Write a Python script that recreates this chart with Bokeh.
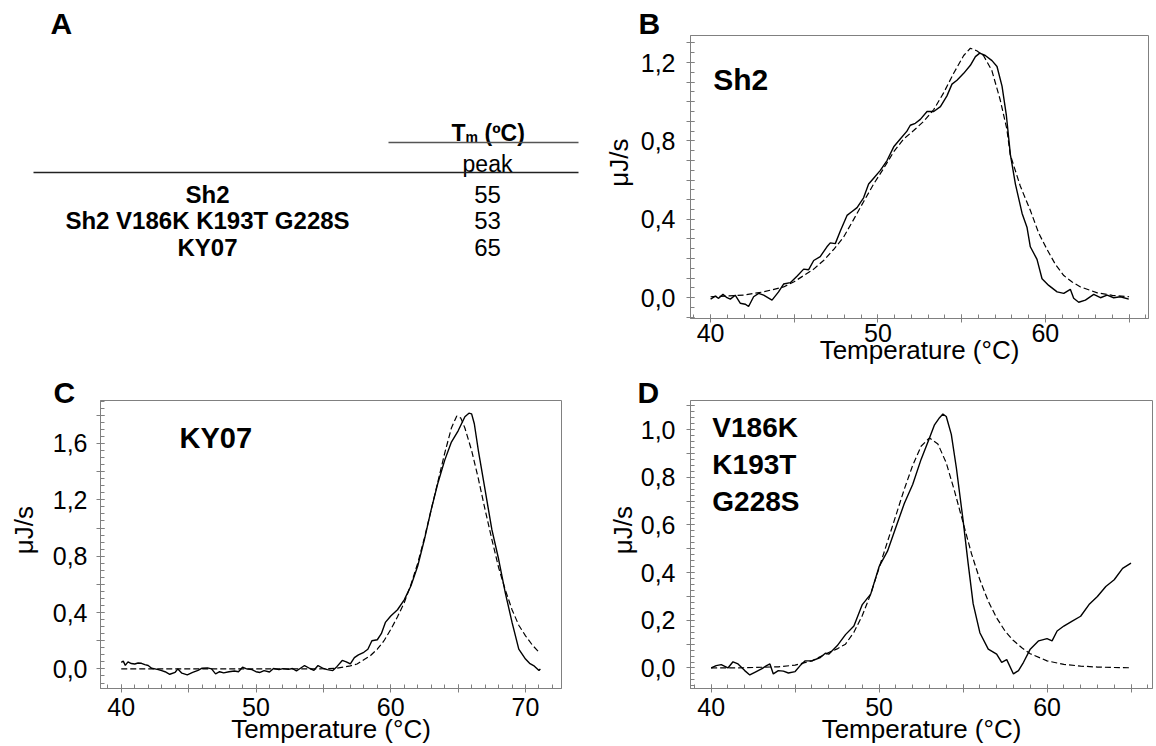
from bokeh.plotting import figure
from bokeh.models import Range1d, FixedTicker, Label, GlobalInlineStyleSheet
from bokeh.layouts import row, column
from bokeh.embed import file_html
from bokeh.resources import INLINE
from bokeh.core.properties import value

FONT = "Liberation Sans"
FRAME = "#808080"
NB = "\u00a0"

# ---------------- Panel A: table ----------------
TABLE_NAMES = ["Sh2", "Sh2 V186K K193T G228S", "KY07"]
TABLE_TM = ["55", "53", "65"]

# ---------------- Panel B: Sh2 ----------------
B_T = [40.0, 40.28, 40.48, 40.74, 40.98, 41.18, 41.47, 41.77, 42.07, 42.27, 42.57, 42.87, 43.17,
       43.67, 44.06, 44.36, 44.76, 45.16, 45.56, 45.86, 46.16, 46.55, 46.95, 47.15, 47.45, 47.75,
       48.15, 48.45, 48.75, 49.14, 49.44, 49.74, 50.14, 50.54, 50.94, 51.33, 51.73, 51.93, 52.23,
       52.53, 52.93, 53.33, 53.73, 54.12, 54.42, 54.72, 55.12, 55.52, 55.82, 56.08, 56.41, 56.81,
       57.11, 57.41, 57.67, 57.91, 58.21, 58.61, 58.90, 59.10, 59.50, 59.80, 60.20, 60.70, 61.10,
       61.49, 61.69, 61.99, 62.39, 62.89, 63.29, 63.69, 64.08, 64.48, 64.98]
B_OBS = [-0.007, 0.008, -0.003, 0.017, 0.0, -0.007, 0.013, -0.028, -0.033, -0.045, 0.005, 0.022, 0.013,
         -0.012, 0.03, 0.07, 0.077, 0.11, 0.146, 0.143, 0.19, 0.21, 0.26, 0.28, 0.276, 0.34,
         0.42, 0.44, 0.46, 0.51, 0.58, 0.61, 0.65, 0.70, 0.77, 0.81, 0.85, 0.88, 0.89,
         0.91, 0.95, 0.95, 0.975, 1.03, 1.09, 1.11, 1.145, 1.186, 1.23, 1.248, 1.236, 1.21,
         1.18, 1.08, 0.93, 0.73, 0.58, 0.43, 0.36, 0.26, 0.196, 0.097, 0.063, 0.03, 0.022,
         0.043, -0.003, -0.023, -0.012, 0.017, 0.0, 0.013, 0.0, 0.005, -0.007]
B_FIT_T = [40.0, 41.0, 41.97, 43.17, 44.36, 44.96, 45.56, 46.16, 46.75, 47.35, 47.95, 48.55, 49.14,
           49.74, 50.34, 50.94, 51.53, 52.13, 52.73, 53.33, 53.92, 54.52, 55.12, 55.52, 55.9, 56.3,
           56.8, 57.3, 57.7, 57.9, 58.5, 59.1, 59.6, 60.1, 60.6, 61.1, 61.6, 62.1, 63.1, 64.0, 65.0]
B_FIT = [0.005, 0.009, 0.013, 0.03, 0.055, 0.08, 0.113, 0.146, 0.19, 0.246, 0.31, 0.40, 0.49,
         0.58, 0.66, 0.745, 0.81, 0.853, 0.90, 0.96, 1.045, 1.145, 1.236, 1.273, 1.26, 1.236,
         1.16, 1.01, 0.86, 0.73, 0.57, 0.446, 0.33, 0.246, 0.17, 0.113, 0.08, 0.055, 0.025, 0.012, 0.005]
B_X_TICKS = [40, 45, 50, 55, 60, 65]
B_X_LABELS = ["40", "", "50", "", "60", ""]
B_Y_TICKS = [round(-0.1 + 0.1 * i, 2) for i in range(15)]
B_Y_LABELS = ["", "0,0", "", "", "", "0,4", "", "", "", "0,8", "", "", "", "1,2", ""]

# ---------------- Panel C: KY07 ----------------
C_T = [40.0, 40.15, 40.3, 40.5, 40.75, 41.0, 41.25, 41.5, 41.75, 42.0, 42.25, 42.5, 42.75, 43.0,
       43.25, 43.6, 44.0, 44.2, 44.5, 44.9, 45.3, 45.7, 46.0, 46.4, 46.7, 47.0, 47.3, 47.6, 48.0,
       48.4, 48.7, 49.0, 49.3, 49.7, 50.0, 50.3, 50.6, 51.0, 51.3, 51.7, 52.0, 52.4, 52.7, 53.0,
       53.3, 53.6, 54.0, 54.3, 54.6, 55.0, 55.3, 55.7, 56.0, 56.4, 56.7, 57.0, 57.3, 57.6, 58.0,
       58.3, 58.6, 59.0, 59.3, 59.6, 60.0, 60.5, 61.0, 61.5, 62.0, 62.5, 63.0, 63.5, 64.0, 64.5,
       65.0, 65.5, 65.8, 66.0, 66.2, 66.5, 67.0, 67.5, 68.0, 68.5, 69.0, 69.5, 70.0, 70.3, 70.6,
       71.0, 71.1]
C_OBS = [0.047, 0.055, 0.025, 0.05, 0.038, 0.035, 0.042, 0.04, 0.03, 0.024, 0.005, 0.0, -0.005, -0.012,
         -0.02, -0.038, -0.024, 0.0, -0.03, -0.042, -0.025, -0.01, 0.005, 0.007, 0.0, -0.035, -0.02, -0.028, -0.02,
         -0.015, -0.02, 0.012, 0.0, -0.005, -0.02, -0.025, -0.012, -0.022, 0.003, -0.005, 0.002, -0.003, 0.003, -0.015,
         0.005, 0.024, 0.003, -0.01, 0.024, 0.003, -0.005, -0.012, 0.016, 0.06, 0.05, 0.035, 0.08, 0.1, 0.118,
         0.14, 0.2, 0.207, 0.25, 0.33, 0.376, 0.42, 0.49, 0.59, 0.73, 0.92, 1.13, 1.32, 1.48, 1.61,
         1.69, 1.79, 1.815, 1.81, 1.74, 1.55, 1.27, 0.99, 0.78, 0.54, 0.33, 0.14, 0.07, 0.04, 0.024,
         -0.012, 0.0]
C_FIT_T = [40.0, 45.0, 50.0, 55.0, 56.0, 57.0, 57.5, 58.0, 58.5, 59.0, 59.5, 60.0, 60.5, 61.0, 61.5,
           62.0, 62.5, 63.0, 63.5, 64.0, 64.5, 64.9, 65.2, 65.5, 66.0, 66.5, 67.0, 67.5, 68.0, 68.5,
           69.0, 69.5, 70.0, 70.5, 71.0]
C_FIT = [0.0, 0.0, 0.0, 0.001, 0.005, 0.022, 0.035, 0.065, 0.095, 0.14, 0.2, 0.28, 0.37, 0.47, 0.6,
         0.75, 0.93, 1.13, 1.33, 1.53, 1.71, 1.795, 1.78, 1.71, 1.55, 1.35, 1.13, 0.92, 0.72, 0.56,
         0.42, 0.31, 0.235, 0.17, 0.118]
C_X_TICKS = [40, 45, 50, 55, 60, 65, 70]
C_X_LABELS = ["40", "", "50", "", "60", "", "70"]
C_Y_TICKS = [round(0.2 * i, 2) for i in range(10)]
C_Y_LABELS = ["0,0", "", "0,4", "", "0,8", "", "1,2", "", "1,6", ""]

# ---------------- Panel D: V186K K193T G228S ----------------
D_T = [40.0, 40.3, 40.6, 41.0, 41.3, 41.6, 42.0, 42.3, 42.6, 43.0, 43.3, 43.5, 43.7, 44.0, 44.3,
       44.6, 45.0, 45.3, 45.6, 46.0, 46.5, 46.8, 47.0, 47.5, 48.0, 48.5, 49.0, 49.5, 50.0, 50.5,
       51.0, 51.5, 52.0, 52.5, 53.0, 53.3, 53.6, 53.8, 54.0, 54.3, 54.6, 55.0, 55.3, 55.6, 56.0,
       56.5, 57.0, 57.3, 57.6, 58.0, 58.3, 58.6, 59.0, 59.5, 60.0, 60.3, 60.6, 61.0, 61.5, 62.0,
       62.5, 63.0, 63.5, 64.0, 64.5, 65.0]
D_OBS = [0.0, 0.01, 0.014, 0.0, 0.026, 0.017, -0.011, -0.029, -0.018, -0.004, 0.01, 0.017, -0.025, -0.011, -0.013,
         -0.021, -0.015, 0.01, 0.03, 0.03, 0.044, 0.062, 0.058, 0.093, 0.14, 0.176, 0.266, 0.31, 0.425, 0.49,
         0.59, 0.69, 0.77, 0.875, 0.965, 1.02, 1.05, 1.065, 1.055, 0.98, 0.84, 0.62, 0.44, 0.27, 0.148,
         0.079, 0.058, 0.024, 0.035, -0.025, -0.011, 0.024, 0.079, 0.114, 0.123, 0.114, 0.155, 0.176, 0.197, 0.217,
         0.266, 0.30, 0.342, 0.37, 0.418, 0.44]
D_FIT_T = [40.0, 42.0, 44.0, 45.0, 46.0, 47.0, 47.5, 48.0, 48.5, 49.0, 49.5, 50.0, 50.5, 51.0, 51.5,
           52.0, 52.5, 53.0, 53.5, 54.0, 54.5, 55.0, 55.5, 56.0, 56.5, 57.0, 57.5, 58.0, 58.5, 59.0,
           60.0, 61.0, 62.0, 63.0, 64.0, 65.0]
D_FIT = [0.0, 0.001, 0.005, 0.012, 0.03, 0.065, 0.08, 0.10, 0.15, 0.22, 0.31, 0.42, 0.53, 0.64, 0.75,
         0.85, 0.93, 0.965, 0.94, 0.86, 0.74, 0.61, 0.48, 0.37, 0.28, 0.21, 0.155, 0.115, 0.085, 0.06,
         0.03, 0.015, 0.008, 0.004, 0.002, 0.001]
D_X_TICKS = [40, 45, 50, 55, 60, 65]
D_X_LABELS = ["40", "", "50", "", "60", ""]
D_Y_TICKS = [round(0.1 * i, 2) for i in range(12)]
D_Y_LABELS = ["0,0", "", "0,2", "", "0,4", "", "0,6", "", "0,8", "", "1,0", ""]

Y_TITLE = NB * 4 + "μJ/s"
X_TITLE = "Temperature (°C)"


def style_axis(ax, ticks, labels, minor, label_standoff, axis_label_standoff):
    ax.ticker = FixedTicker(ticks=ticks, minor_ticks=minor)
    ax.major_label_overrides = dict(zip(ticks, labels))
    ax.axis_line_color = FRAME
    ax.major_tick_line_color = FRAME
    ax.minor_tick_line_color = FRAME
    ax.major_tick_in = 4
    ax.major_tick_out = 4
    ax.minor_tick_in = 4
    ax.minor_tick_out = 0
    ax.major_label_standoff = label_standoff
    ax.major_label_text_font = FONT
    ax.major_label_text_font_size = "25px"
    ax.major_label_text_color = "black"
    ax.axis_label_standoff = axis_label_standoff
    ax.axis_label_text_font = FONT
    ax.axis_label_text_font_size = "26px"
    ax.axis_label_text_font_style = "normal"
    ax.axis_label_text_color = "black"


def set_letter(p, text, offset, standoff):
    p.title.text = text
    p.title.align = "left"
    p.title.vertical_align = "bottom"
    p.title.offset = offset
    p.title.standoff = standoff
    p.title.text_font = FONT
    p.title.text_font_size = "30px"
    p.title.text_font_style = "bold"
    p.title.text_color = "black"


def panel(width, height, borders, xr, yr):
    left, right, top, bottom = borders
    p = figure(width=width, height=height, x_range=Range1d(*xr), y_range=Range1d(*yr),
               output_backend="svg", toolbar_location=None,
               min_border_left=left, min_border_right=right,
               min_border_top=top, min_border_bottom=bottom)
    p.xgrid.visible = False
    p.ygrid.visible = False
    p.outline_line_color = FRAME
    p.outline_line_width = 1
    p.background_fill_color = "white"
    p.border_fill_color = "white"
    return p


def add_curves(p, t, obs, ft, fit):
    p.line(ft, fit, line_color="black", line_width=1.2, line_dash="6 3")
    p.line(t, obs, line_color="black", line_width=1.4)


def add_label(p, x, y, text, size):
    p.add_layout(Label(x=x, y=y, text=text, text_font=FONT, text_font_size=size,
                       text_font_style="bold", text_color="black",
                       text_align="left", text_baseline="alphabetic"))


TOP_H, BOT_H = 372, 374
LEFT_W, RIGHT_W = 600, 556

# ---------------- Panel A figure (table, page-pixel coordinates) ----------------
pA = figure(width=LEFT_W, height=TOP_H, x_range=Range1d(0, 600), y_range=Range1d(318, 35),
            output_backend="svg", toolbar_location=None, x_axis_type=None, y_axis_type=None,
            min_border_left=0, min_border_right=0, min_border_top=35, min_border_bottom=54)
pA.outline_line_color = None
pA.xgrid.visible = False
pA.ygrid.visible = False
set_letter(pA, "A", 50, -8)
pA.text(x=[451], y=[132.5], text=["T"], text_font=value(FONT), text_font_size="23px",
        text_font_style="bold", text_align="left", text_baseline="alphabetic")
pA.text(x=[465], y=[136.5], text=["m"], text_font=value(FONT), text_font_size="14px",
        text_font_style="bold", text_align="left", text_baseline="alphabetic")
pA.text(x=[484], y=[132.5], text=["(ºC)"], text_font=value(FONT), text_font_size="23px",
        text_font_style="bold", text_align="left", text_baseline="alphabetic")
pA.text(x=[487], y=[163], text=["peak"], text_font=value(FONT), text_font_size="23px",
        text_align="center", text_baseline="alphabetic")
pA.segment(x0=[388], y0=[142], x1=[578], y1=[142], line_color="#555555", line_width=1.5)
pA.segment(x0=[33], y0=[172], x1=[578], y1=[172], line_color="#222222", line_width=1.5)
pA.text(x=[207, 207, 207], y=[194, 220, 247], text=TABLE_NAMES, text_font=value(FONT),
        text_font_size="24px", text_font_style="bold", text_align="center", text_baseline="alphabetic")
pA.text(x=[487, 487, 487], y=[194, 220, 247], text=TABLE_TM, text_font=value(FONT),
        text_font_size="24px", text_align="center", text_baseline="alphabetic")

# ---------------- Panel B figure ----------------
pB = panel(RIGHT_W, TOP_H, (90, 8, 35, 54), (38.8, 66.16), (-0.106, 1.338))
style_axis(pB.xaxis[0], B_X_TICKS, B_X_LABELS, list(range(39, 67)), 1, -10)
style_axis(pB.yaxis[0], B_Y_TICKS, B_Y_LABELS, [round(-0.1 + 0.05 * i, 3) for i in range(29)], 11, 4)
pB.xaxis.axis_label = X_TITLE
pB.yaxis.axis_label = Y_TITLE
add_curves(pB, B_T, B_OBS, B_FIT_T, B_FIT)
add_label(pB, 40.16, 1.114, "Sh2", "30px")
set_letter(pB, "B", -52, -8)

# ---------------- Panel C figure ----------------
pC = panel(LEFT_W, BOT_H, (100, 39, 28, 40), (38.46, 72.67), (-0.139, 1.905))
style_axis(pC.xaxis[0], C_X_TICKS, C_X_LABELS, list(range(39, 73)), 5, -5)
style_axis(pC.yaxis[0], C_Y_TICKS, C_Y_LABELS, [round(-0.1 + 0.05 * i, 3) for i in range(41)], 9, 11)
pC.xaxis.axis_label = X_TITLE
pC.yaxis.axis_label = Y_TITLE
add_curves(pC, C_T, C_OBS, C_FIT_T, C_FIT)
add_label(pC, 44.32, 1.637, "KY07", "29px")
set_letter(pC, "C", -47, -17)

# ---------------- Panel D figure ----------------
pD = panel(RIGHT_W, BOT_H, (90, 4, 28, 40), (38.77, 66.28), (-0.086, 1.122))
style_axis(pD.xaxis[0], D_X_TICKS, D_X_LABELS, list(range(39, 67)), 5, -5)
style_axis(pD.yaxis[0], D_Y_TICKS, D_Y_LABELS, [round(-0.075 + 0.025 * i, 3) for i in range(48)], 11, 0)
pD.xaxis.axis_label = X_TITLE
pD.yaxis.axis_label = Y_TITLE
add_curves(pD, D_T, D_OBS, D_FIT_T, D_FIT)
for txt, yy in zip(["V186K", "K193T", "G228S"], [1.008, 0.853, 0.697]):
    add_label(pD, 40.07, yy, txt, "28px")
set_letter(pD, "D", -53, -17)

layout = column(row(pA, pB), row(pC, pD))
layout.stylesheets = [GlobalInlineStyleSheet(css="html, body { margin: 0; padding: 0; overflow: hidden; }")]
open("out.html", "w").write(file_html(layout, INLINE))
